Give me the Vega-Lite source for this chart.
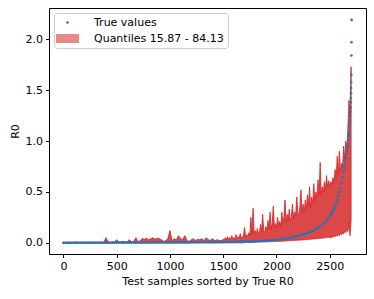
{
 "$schema": "https://vega.github.io/schema/vega-lite/v6.json",
 "width": 317,
 "height": 246,
 "autosize": "none",
 "padding": {"left": 49, "top": 8, "right": 8, "bottom": 45},
 "background": "white",
 "config": {
  "font": "DejaVu Sans",
  "view": {"stroke": "#000", "strokeWidth": 1},
  "axis": {"grid": false, "domain": false, "tickColor": "#000", "tickSize": 3.5, "labelColor": "#000", "labelFontSize": 11, "labelPadding": 3, "titleFontSize": 11, "titleFontWeight": "normal", "titleColor": "#000", "labelFont": "DejaVu Sans", "titleFont": "DejaVu Sans"},
  "legend": {"orient": "top-left", "offset": 5, "strokeColor": "#cccccc", "fillColor": "rgba(255,255,255,0.8)", "cornerRadius": 3, "padding": 4, "labelFontSize": 11, "labelColor": "#000", "labelFont": "DejaVu Sans", "symbolStrokeWidth": 0, "rowPadding": 2, "labelOffset": 18, "symbolOffset": 1}
 },
 "datasets": {
  "band": [
   {"x":0,"lo":0,"hi":0.004},{"x":20,"lo":0,"hi":0.005},{"x":40,"lo":0,"hi":0.004},{"x":60,"lo":0,"hi":0.006},{"x":80,"lo":0,"hi":0.005},{"x":100,"lo":0,"hi":0.006},{"x":120,"lo":0,"hi":0.008},{"x":140,"lo":0,"hi":0.005},{"x":160,"lo":0,"hi":0.006},{"x":180,"lo":0,"hi":0.007},{"x":200,"lo":0,"hi":0.005},{"x":220,"lo":0,"hi":0.007},{"x":240,"lo":0,"hi":0.006},{"x":260,"lo":0,"hi":0.008},{"x":280,"lo":0,"hi":0.006},{"x":300,"lo":0,"hi":0.007},{"x":320,"lo":0,"hi":0.009},{"x":340,"lo":0,"hi":0.006},{"x":360,"lo":0,"hi":0.008},{"x":380,"lo":0,"hi":0.007},
   {"x":400,"lo":0,"hi":0.05},{"x":420,"lo":0,"hi":0.01},{"x":440,"lo":0,"hi":0.006},{"x":460,"lo":0,"hi":0.01},{"x":480,"lo":0,"hi":0.008},{"x":500,"lo":0,"hi":0.03},{"x":520,"lo":0,"hi":0.01},{"x":540,"lo":0,"hi":0.006},{"x":560,"lo":0,"hi":0.015},{"x":580,"lo":0,"hi":0.008},{"x":600,"lo":0,"hi":0.01},{"x":620,"lo":0,"hi":0.03},{"x":640,"lo":0,"hi":0.008},{"x":660,"lo":0,"hi":0.012},{"x":680,"lo":0,"hi":0.05},{"x":700,"lo":0,"hi":0.01},{"x":720,"lo":0,"hi":0.02},{"x":740,"lo":0,"hi":0.04},{"x":760,"lo":0,"hi":0.035},{"x":780,"lo":0,"hi":0.045},
   {"x":800,"lo":0,"hi":0.03},{"x":820,"lo":0,"hi":0.04},{"x":840,"lo":0,"hi":0.05},{"x":860,"lo":0,"hi":0.035},{"x":880,"lo":0,"hi":0.045},{"x":900,"lo":0,"hi":0.04},{"x":920,"lo":0,"hi":0.03},{"x":940,"lo":0,"hi":0.015},{"x":960,"lo":0,"hi":0.02},{"x":980,"lo":0,"hi":0.04},{"x":1000,"lo":0,"hi":0.12},{"x":1020,"lo":0,"hi":0.02},{"x":1040,"lo":0,"hi":0.04},{"x":1060,"lo":0,"hi":0.03},{"x":1080,"lo":0,"hi":0.07},{"x":1100,"lo":0,"hi":0.04},{"x":1120,"lo":0,"hi":0.03},{"x":1140,"lo":0,"hi":0.07},{"x":1160,"lo":0,"hi":0.02},{"x":1180,"lo":0,"hi":0.015},
   {"x":1200,"lo":0,"hi":0.03},{"x":1220,"lo":0,"hi":0.04},{"x":1240,"lo":0,"hi":0.02},{"x":1260,"lo":0,"hi":0.035},{"x":1280,"lo":0,"hi":0.03},{"x":1300,"lo":0,"hi":0.04},{"x":1320,"lo":0,"hi":0.02},{"x":1340,"lo":0,"hi":0.05},{"x":1360,"lo":0,"hi":0.03},{"x":1380,"lo":0,"hi":0.025},{"x":1400,"lo":0,"hi":0.04},{"x":1420,"lo":0,"hi":0.02},{"x":1440,"lo":0,"hi":0.03},{"x":1460,"lo":0,"hi":0.025},{"x":1480,"lo":0,"hi":0.02},{"x":1500,"lo":0,"hi":0.035},
   {"x":1510,"lo":0,"hi":0.03},{"x":1520,"lo":0,"hi":0.05},{"x":1530,"lo":0,"hi":0.03},{"x":1540,"lo":0,"hi":0.06},{"x":1550,"lo":0,"hi":0.035},{"x":1560,"lo":0,"hi":0.05},{"x":1570,"lo":0,"hi":0.04},{"x":1580,"lo":0,"hi":0.07},{"x":1590,"lo":0,"hi":0.04},{"x":1600,"lo":0,"hi":0.05},
   {"x":1610,"lo":0,"hi":0.035},{"x":1620,"lo":0,"hi":0.08},{"x":1630,"lo":0,"hi":0.045},{"x":1640,"lo":0,"hi":0.06},{"x":1650,"lo":0,"hi":0.05},{"x":1660,"lo":0,"hi":0.09},{"x":1670,"lo":0,"hi":0.05},{"x":1680,"lo":0,"hi":0.06},{"x":1690,"lo":0,"hi":0.07},{"x":1700,"lo":0.003,"hi":0.15},
   {"x":1710,"lo":0.004,"hi":0.06},{"x":1720,"lo":0.003,"hi":0.08},{"x":1730,"lo":0.005,"hi":0.06},{"x":1740,"lo":0.004,"hi":0.1},{"x":1750,"lo":0.005,"hi":0.07},{"x":1760,"lo":0.004,"hi":0.25},{"x":1770,"lo":0.006,"hi":0.08},{"x":1780,"lo":0.005,"hi":0.34},{"x":1790,"lo":0.006,"hi":0.09},{"x":1800,"lo":0.005,"hi":0.12},
   {"x":1810,"lo":0.007,"hi":0.08},{"x":1820,"lo":0.006,"hi":0.14},{"x":1830,"lo":0.008,"hi":0.1},{"x":1840,"lo":0.007,"hi":0.09},{"x":1850,"lo":0.008,"hi":0.18},{"x":1860,"lo":0.007,"hi":0.11},{"x":1870,"lo":0.009,"hi":0.28},{"x":1880,"lo":0.008,"hi":0.12},{"x":1890,"lo":0.009,"hi":0.1},{"x":1900,"lo":0.01,"hi":0.16},
   {"x":1910,"lo":0.009,"hi":0.12},{"x":1920,"lo":0.011,"hi":0.22},{"x":1930,"lo":0.01,"hi":0.14},{"x":1940,"lo":0.012,"hi":0.3},{"x":1950,"lo":0.011,"hi":0.13},{"x":1960,"lo":0.012,"hi":0.2},{"x":1970,"lo":0.013,"hi":0.36},{"x":1980,"lo":0.012,"hi":0.15},{"x":1990,"lo":0.014,"hi":0.19},{"x":2000,"lo":0.013,"hi":0.14},
   {"x":2010,"lo":0.015,"hi":0.25},{"x":2020,"lo":0.014,"hi":0.17},{"x":2030,"lo":0.016,"hi":0.21},{"x":2040,"lo":0.015,"hi":0.16},{"x":2050,"lo":0.017,"hi":0.3},{"x":2060,"lo":0.016,"hi":0.19},{"x":2070,"lo":0.018,"hi":0.26},{"x":2080,"lo":0.017,"hi":0.42},{"x":2090,"lo":0.019,"hi":0.2},{"x":2100,"lo":0.02,"hi":0.28},
   {"x":2110,"lo":0.019,"hi":0.22},{"x":2120,"lo":0.022,"hi":0.33},{"x":2130,"lo":0.02,"hi":0.21},{"x":2140,"lo":0.023,"hi":0.26},{"x":2150,"lo":0.021,"hi":0.38},{"x":2160,"lo":0.024,"hi":0.24},{"x":2170,"lo":0.022,"hi":0.3},{"x":2180,"lo":0.025,"hi":0.27},{"x":2190,"lo":0.024,"hi":0.45},{"x":2200,"lo":0.027,"hi":0.3},
   {"x":2210,"lo":0.025,"hi":0.26},{"x":2220,"lo":0.028,"hi":0.36},{"x":2230,"lo":0.026,"hi":0.52},{"x":2240,"lo":0.03,"hi":0.3},{"x":2250,"lo":0.028,"hi":0.38},{"x":2260,"lo":0.031,"hi":0.29},{"x":2270,"lo":0.029,"hi":0.42},{"x":2280,"lo":0.033,"hi":0.33},{"x":2290,"lo":0.031,"hi":0.47},{"x":2300,"lo":0.035,"hi":0.36},
   {"x":2310,"lo":0.032,"hi":0.55},{"x":2320,"lo":0.037,"hi":0.34},{"x":2330,"lo":0.034,"hi":0.45},{"x":2340,"lo":0.039,"hi":0.39},{"x":2350,"lo":0.036,"hi":0.58},{"x":2360,"lo":0.041,"hi":0.4},{"x":2370,"lo":0.038,"hi":0.5},{"x":2380,"lo":0.043,"hi":0.44},{"x":2390,"lo":0.04,"hi":0.62},{"x":2400,"lo":0.046,"hi":0.47},
   {"x":2410,"lo":0.042,"hi":0.79},{"x":2420,"lo":0.048,"hi":0.46},{"x":2430,"lo":0.044,"hi":0.55},{"x":2440,"lo":0.05,"hi":0.5},{"x":2450,"lo":0.046,"hi":0.6},{"x":2460,"lo":0.053,"hi":0.52},{"x":2470,"lo":0.049,"hi":0.66},{"x":2480,"lo":0.056,"hi":0.54},{"x":2490,"lo":0.051,"hi":0.61},{"x":2500,"lo":0.06,"hi":0.55},
   {"x":2510,"lo":0.045,"hi":0.6},{"x":2520,"lo":0.068,"hi":0.58},{"x":2530,"lo":0.055,"hi":0.64},{"x":2540,"lo":0.072,"hi":0.57},{"x":2550,"lo":0.06,"hi":0.72},{"x":2560,"lo":0.078,"hi":0.62},{"x":2570,"lo":0.065,"hi":0.85},{"x":2580,"lo":0.085,"hi":0.66},{"x":2590,"lo":0.07,"hi":0.9},{"x":2600,"lo":0.09,"hi":0.7},
   {"x":2610,"lo":0.08,"hi":0.78},{"x":2620,"lo":0.1,"hi":0.74},{"x":2630,"lo":0.085,"hi":0.95},{"x":2640,"lo":0.12,"hi":0.82},{"x":2650,"lo":0.1,"hi":1.0},{"x":2660,"lo":0.14,"hi":0.9},{"x":2670,"lo":0.11,"hi":1.12},{"x":2680,"lo":0.2,"hi":1.4},{"x":2690,"lo":0.07,"hi":1.25},{"x":2700,"lo":0.22,"hi":1.73}
  ],
  "truth": [
   {"x":0,"t":0},{"x":20,"t":0},{"x":40,"t":0},{"x":60,"t":0},{"x":80,"t":0},{"x":100,"t":0.001},{"x":120,"t":0.001},{"x":140,"t":0.001},{"x":160,"t":0.001},{"x":180,"t":0.001},{"x":200,"t":0.001},{"x":220,"t":0.001},{"x":240,"t":0.001},{"x":260,"t":0.001},{"x":280,"t":0.001},{"x":300,"t":0.001},{"x":320,"t":0.001},{"x":340,"t":0.001},{"x":360,"t":0.001},{"x":380,"t":0.001},{"x":400,"t":0.001},{"x":420,"t":0.001},{"x":440,"t":0.001},{"x":460,"t":0.001},{"x":480,"t":0.001},
   {"x":500,"t":0.002},{"x":520,"t":0.002},{"x":540,"t":0.002},{"x":560,"t":0.002},{"x":580,"t":0.002},{"x":600,"t":0.002},{"x":620,"t":0.002},{"x":640,"t":0.002},{"x":660,"t":0.002},{"x":680,"t":0.002},{"x":700,"t":0.002},{"x":720,"t":0.002},{"x":740,"t":0.002},{"x":760,"t":0.002},{"x":780,"t":0.003},{"x":800,"t":0.003},{"x":820,"t":0.003},{"x":840,"t":0.003},{"x":860,"t":0.003},{"x":880,"t":0.003},{"x":900,"t":0.003},{"x":920,"t":0.003},{"x":940,"t":0.003},{"x":960,"t":0.003},{"x":980,"t":0.003},
   {"x":1000,"t":0.003},{"x":1020,"t":0.003},{"x":1040,"t":0.004},{"x":1060,"t":0.004},{"x":1080,"t":0.004},{"x":1100,"t":0.004},{"x":1120,"t":0.004},{"x":1140,"t":0.004},{"x":1160,"t":0.004},{"x":1180,"t":0.004},{"x":1200,"t":0.005},{"x":1220,"t":0.005},{"x":1240,"t":0.005},{"x":1260,"t":0.005},{"x":1280,"t":0.005},{"x":1300,"t":0.005},{"x":1320,"t":0.005},{"x":1340,"t":0.006},{"x":1360,"t":0.006},{"x":1380,"t":0.006},{"x":1400,"t":0.006},{"x":1420,"t":0.006},{"x":1440,"t":0.007},{"x":1460,"t":0.007},{"x":1480,"t":0.007},
   {"x":1500,"t":0.007},{"x":1520,"t":0.008},{"x":1540,"t":0.008},{"x":1560,"t":0.008},{"x":1580,"t":0.009},{"x":1600,"t":0.009},{"x":1620,"t":0.01},{"x":1640,"t":0.01},{"x":1660,"t":0.011},{"x":1680,"t":0.011},{"x":1700,"t":0.012},{"x":1720,"t":0.012},{"x":1740,"t":0.013},{"x":1760,"t":0.014},{"x":1780,"t":0.015},{"x":1800,"t":0.016},{"x":1820,"t":0.017},{"x":1840,"t":0.018},{"x":1860,"t":0.019},{"x":1880,"t":0.02},{"x":1900,"t":0.021},{"x":1920,"t":0.023},{"x":1940,"t":0.024},{"x":1960,"t":0.025},{"x":1980,"t":0.027},
   {"x":2000,"t":0.028},{"x":2020,"t":0.03},{"x":2040,"t":0.033},{"x":2060,"t":0.036},{"x":2080,"t":0.039},{"x":2100,"t":0.043},{"x":2120,"t":0.047},{"x":2140,"t":0.051},{"x":2160,"t":0.056},{"x":2180,"t":0.062},{"x":2200,"t":0.068},{"x":2220,"t":0.073},{"x":2240,"t":0.079},{"x":2260,"t":0.085},{"x":2280,"t":0.091},{"x":2300,"t":0.098},{"x":2320,"t":0.107},{"x":2340,"t":0.117},{"x":2360,"t":0.128},{"x":2380,"t":0.14},{"x":2400,"t":0.153},{"x":2420,"t":0.17},{"x":2440,"t":0.19},{"x":2460,"t":0.21},{"x":2480,"t":0.232},
   {"x":2500,"t":0.26},{"x":2510,"t":0.275},{"x":2520,"t":0.29},{"x":2530,"t":0.31},{"x":2540,"t":0.335},{"x":2550,"t":0.36},{"x":2560,"t":0.39},{"x":2570,"t":0.42},{"x":2580,"t":0.46},{"x":2590,"t":0.5},{"x":2600,"t":0.54},{"x":2610,"t":0.59},{"x":2620,"t":0.64},{"x":2630,"t":0.7},{"x":2635,"t":0.73},{"x":2640,"t":0.76},{"x":2645,"t":0.79},{"x":2650,"t":0.83},{"x":2655,"t":0.87},{"x":2660,"t":0.9},{"x":2664,"t":0.94},{"x":2668,"t":0.97},{"x":2672,"t":1.01},{"x":2676,"t":1.05},{"x":2680,"t":1.08},
   {"x":2683,"t":1.13},{"x":2686,"t":1.17},{"x":2689,"t":1.2},{"x":2691,"t":1.25},{"x":2693,"t":1.29},{"x":2695,"t":1.33},{"x":2697,"t":1.38},{"x":2698,"t":1.42},{"x":2699,"t":1.47},{"x":2700,"t":1.52},{"x":2701,"t":1.58},{"x":2702,"t":1.65},{"x":2703,"t":1.84},{"x":2704,"t":1.97},{"x":2705,"t":2.19}
  ]
 },
 "layer": [
  {
   "data": {"name": "band"},
   "mark": {"type": "area", "stroke": "#d62728", "strokeWidth": 1, "strokeOpacity": 0.85, "fillOpacity": 0.85},
   "encoding": {
    "x": {"field": "x", "type": "quantitative", "scale": {"domain": [-135, 2840], "nice": false, "zero": false}, "axis": {"values": [0, 500, 1000, 1500, 2000, 2500], "format": "d", "title": "Test samples sorted by True R0", "titlePadding": 4}},
    "y": {"field": "lo", "type": "quantitative", "scale": {"domain": [-0.11, 2.307], "nice": false, "zero": false}, "axis": {"values": [0, 0.5, 1, 1.5, 2], "format": ".1f", "title": "R0", "titlePadding": 5}},
    "y2": {"field": "hi"},
    "color": {
     "datum": "Quantiles 15.87 - 84.13", "type": "nominal",
     "scale": {"domain": ["True values", "Quantiles 15.87 - 84.13"], "range": ["#1f77b4", "#d62728"]},
     "legend": {"title": null}
    }
   }
  },
  {
   "data": {"name": "truth"},
   "mark": {"type": "point", "filled": true, "opacity": 1},
   "encoding": {
    "x": {"field": "x", "type": "quantitative"},
    "y": {"field": "t", "type": "quantitative"},
    "color": {"datum": "True values", "type": "nominal", "legend": {"title": null}},
    "shape": {"datum": "True values", "type": "nominal", "scale": {"domain": ["True values", "Quantiles 15.87 - 84.13"], "range": ["circle", "M-1.35,-0.53H1.35V0.53H-1.35Z"]}, "legend": {"title": null}},
    "size": {"datum": "True values", "type": "ordinal", "scale": {"domain": ["True values", "Quantiles 15.87 - 84.13"], "range": [7, 289]}, "legend": {"title": null}},
    "opacity": {"datum": "True values", "type": "ordinal", "scale": {"domain": ["True values", "Quantiles 15.87 - 84.13"], "range": [1, 0.55]}, "legend": {"title": null}}
   }
  }
 ]
}
